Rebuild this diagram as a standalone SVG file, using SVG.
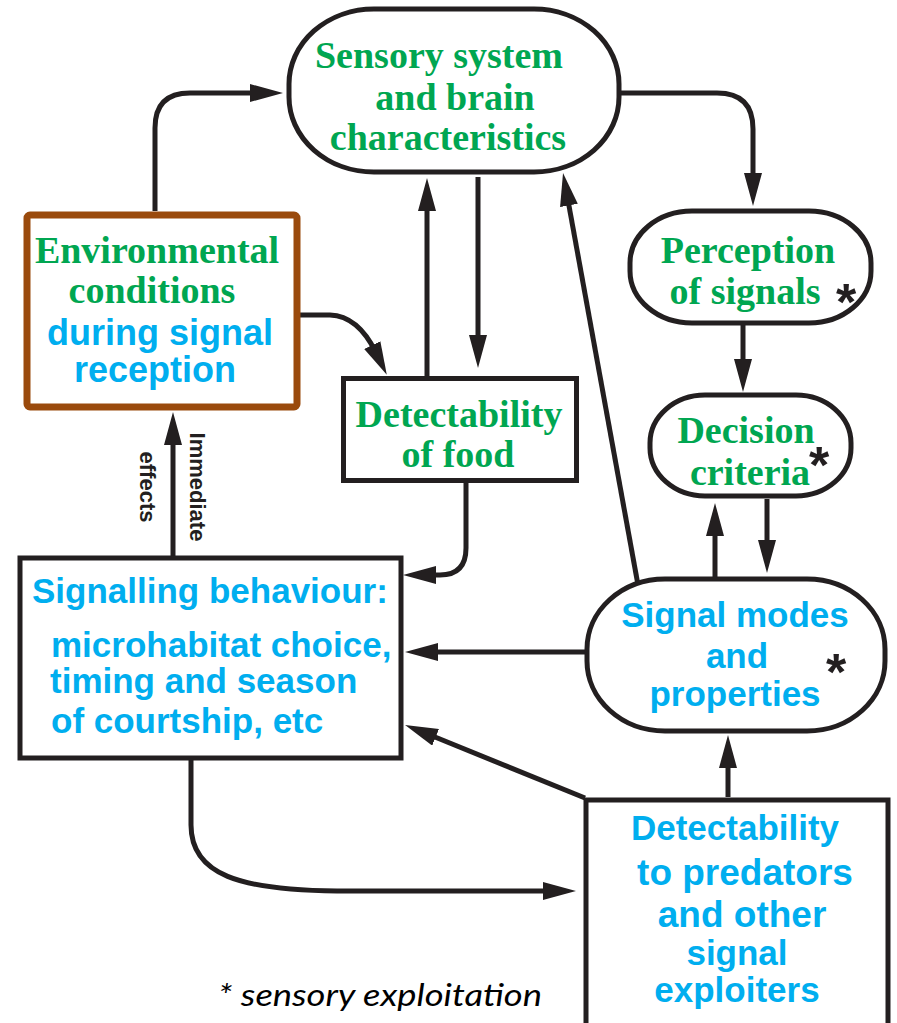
<svg xmlns="http://www.w3.org/2000/svg" width="897" height="1023" viewBox="0 0 897 1023">
<style>
.node{fill:#fff;stroke:#231F20;stroke-width:5}
.env{fill:#fff;stroke:#9A4A0C;stroke-width:7}
.g{font-family:"Liberation Serif","Times New Roman",serif;font-weight:bold;font-size:38px;fill:#00A651;text-anchor:middle}
.b{font-family:"Liberation Sans",Arial,sans-serif;font-weight:bold;font-size:35px;fill:#00AEEF}
.bc{text-anchor:middle}
.ast{font-family:"Liberation Sans",Arial,sans-serif;font-weight:bold;font-size:52px;fill:#231F20}
.lbl{font-family:"Liberation Sans",Arial,sans-serif;font-weight:bold;font-size:22px;fill:#231F20;text-anchor:middle}
.note{font-family:Lato,"Liberation Sans",sans-serif;font-style:italic;font-size:31px;fill:#000}
.c{fill:none;stroke:#231F20;stroke-width:5;marker-end:url(#ah)}
</style>
<defs>
<marker id="ah" markerUnits="userSpaceOnUse" markerWidth="34" markerHeight="18" refX="8" refY="9" orient="auto" viewBox="0 0 34 18">
<path d="M0,0 L33,9 L0,18 z" fill="#231F20"/>
</marker>
</defs>
<rect width="897" height="1023" fill="#fff"/>

<g id="connectors">
<path class="c" d="M155,211 V128 Q155,93 190,93 H258"/>
<path class="c" d="M619,93 H717 Q753,93 753,129 V181"/>
<path class="c" d="M427,376 V203"/>
<path class="c" d="M478,177 V343"/>
<path class="c" d="M638,585 L567.5,197.6"/>
<path class="c" d="M299,315 L330,315 Q358,316 375.8,352.3"/>
<path class="c" d="M743,325 V367"/>
<path class="c" d="M715,577 V528"/>
<path class="c" d="M767,499 V548"/>
<path class="c" d="M585,652 H430"/>
<path class="c" d="M466,483 V548 Q466,575 440,575 L428,575"/>
<path class="c" d="M585,798 L428.2,734.3"/>
<path class="c" d="M728,797 V760"/>
<path class="c" d="M191,760 V825 C191,875 240,890 337,891 H551"/>
<path class="c" d="M173,556 V437"/>
</g>

<g id="sensory">
<rect class="node" x="289" y="9" width="330" height="163" rx="85" ry="75"/>
<text class="g" x="439" y="68">Sensory system</text>
<text class="g" x="455" y="110">and brain</text>
<text class="g" x="448" y="150">characteristics</text>
</g>

<g id="environment">
<rect class="env" x="27" y="215" width="270" height="192" rx="3"/>
<text class="g" x="157" y="263">Environmental</text>
<text class="g" x="152" y="303">conditions</text>
<text class="b bc" x="160" y="345" style="font-size:36px">during signal</text>
<text class="b bc" x="155" y="382" style="font-size:36px">reception</text>
</g>

<g id="food">
<rect class="node" x="343.5" y="378.5" width="233" height="102"/>
<text class="g" x="459" y="427">Detectability</text>
<text class="g" x="458" y="467">of food</text>
</g>

<g id="perception">
<rect class="node" x="630" y="211" width="241" height="112" rx="62" ry="52"/>
<text class="g" x="748" y="263">Perception</text>
<text class="g" x="745" y="304">of signals</text>
<text class="ast" x="836" y="320">*</text>
</g>

<g id="decision">
<rect class="node" x="650" y="395" width="201" height="101" rx="55" ry="48"/>
<text class="g" x="746" y="443">Decision</text>
<text class="g" x="750" y="485">criteria</text>
<text class="ast" x="809" y="483">*</text>
</g>

<g id="signal-modes">
<rect class="node" x="587" y="579" width="298" height="152" rx="78" ry="70"/>
<text class="b bc" x="735" y="627">Signal modes</text>
<text class="b bc" x="737" y="668">and</text>
<text class="b bc" x="735" y="706">properties</text>
<text class="ast" x="826" y="690">*</text>
</g>

<g id="signalling">
<rect class="node" x="20" y="558" width="381" height="200"/>
<text class="b" x="32" y="603">Signalling behaviour:</text>
<text class="b" x="51" y="657">microhabitat choice,</text>
<text class="b" x="50" y="693">timing and season</text>
<text class="b" x="51" y="733">of courtship, etc</text>
</g>

<g id="immediate-label">
<text class="lbl" transform="translate(190,487) rotate(90)">Immediate</text>
<text class="lbl" transform="translate(140,487) rotate(90)">effects</text>
</g>

<g id="predators">
<rect class="node" x="586" y="800" width="302" height="245"/>
<text class="b bc" x="735" y="840">Detectability</text>
<text class="b bc" x="745" y="885" style="font-size:37px">to predators</text>
<text class="b bc" x="742" y="927" style="font-size:37px">and other</text>
<text class="b bc" x="737" y="965">signal</text>
<text class="b bc" x="737" y="1002">exploiters</text>
</g>

<text class="note" x="218" y="1006" textLength="324" lengthAdjust="spacingAndGlyphs">* sensory exploitation</text>
</svg>
